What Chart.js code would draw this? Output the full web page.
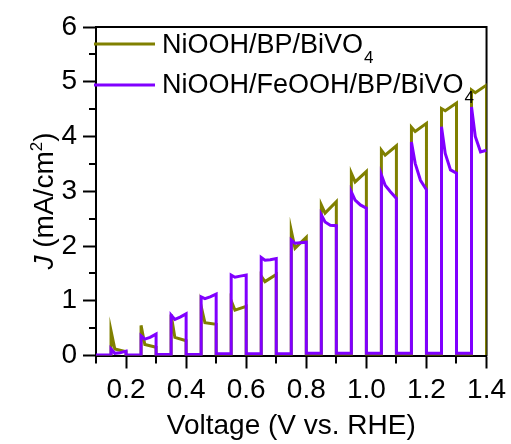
<!DOCTYPE html>
<html>
<head>
<meta charset="utf-8">
<script src="https://cdn.jsdelivr.net/npm/chart.js@4.4.1/dist/chart.umd.min.js"></script>
<style>
  html, body { margin: 0; padding: 0; background: #ffffff; }
  #c { display: block; }
</style>
</head>
<body>
<canvas id="c" width="511" height="444"></canvas>
<script>
// ---------- data ----------
const seriesNames = ['NiOOH/BP/BiVO', 'NiOOH/FeOOH/BP/BiVO'];
const seriesSubs  = ['4', '4'];

const lightOn  = [0.15, 0.25, 0.35, 0.45, 0.55, 0.65, 0.75, 0.85, 0.95, 1.05, 1.15, 1.25, 1.35];
const lightOff = [0.20, 0.30, 0.40, 0.50, 0.60, 0.70, 0.80, 0.90, 1.00, 1.10, 1.20, 1.30, 1.40];

// NiOOH/BP/BiVO4 (olive)
const olivePeak = [0.45, 0.55, 0.75, 0.90, 1.00, 1.45, 2.28, 2.75, 3.33, 3.75, 4.17, 4.51, 4.85];
const oliveMid  = [0.12, 0.20, 0.33, 0.60, 0.83, 1.35, 1.96, 2.60, 3.17, 3.66, 4.09, 4.47, 4.80];
const oliveEnd  = [0.07, 0.15, 0.27, 0.57, 0.90, 1.48, 2.16, 2.81, 3.36, 3.83, 4.24, 4.61, 4.94];
const oliveDark = [0.00, 0.00, 0.00, 0.00, 0.00, 0.01, 0.01, 0.01, 0.01, 0.01, 0.01, 0.01, 0.01];

// NiOOH/FeOOH/BP/BiVO4 (purple)
const purplePeak = [0.12, 0.36, 0.74, 1.07, 1.47, 1.79, 2.11, 2.57, 2.99, 3.30, 3.90, 4.18, 4.54];
const purpleMid  = [0.04, 0.30, 0.66, 1.04, 1.43, 1.74, 2.05, 2.44, 2.84, 3.11, 3.51, 3.69, 4.00];
const purpleLate = [0.05, 0.33, 0.70, 1.07, 1.45, 1.75, 2.06, 2.38, 2.75, 2.99, 3.20, 3.39, 3.72];
const purpleEnd  = [0.08, 0.39, 0.76, 1.12, 1.47, 1.77, 2.07, 2.37, 2.69, 2.87, 3.03, 3.33, 3.75];
const purpleDark = [0.01, 0.01, 0.02, 0.02, 0.03, 0.03, 0.03, 0.04, 0.04, 0.04, 0.04, 0.04, 0.04];

const xTicks      = [0.2, 0.4, 0.6, 0.8, 1.0, 1.2, 1.4];
const xMinorTicks = [0.1, 0.3, 0.5, 0.7, 0.9, 1.1, 1.3];
const yTicks      = [0, 1, 2, 3, 4, 5, 6];
const yMinorTicks = [0.5, 1.5, 2.5, 3.5, 4.5, 5.5];

const X_MIN = 0.1, X_MAX = 1.4, Y_MIN = 0, Y_MAX = 6;

// ---------- build chopped-light traces ----------
function buildTrace(peak, mid, late, end, dark, dropAtEnd) {
  const pts = [{ x: X_MIN, y: dark[0] }];
  for (let i = 0; i < lightOn.length; i++) {
    const on = lightOn[i], off = lightOff[i];
    pts.push({ x: on, y: dark[i] });
    pts.push({ x: on, y: peak[i] });
    pts.push({ x: on + (off - on) * 0.25, y: mid[i] });
    if (late) pts.push({ x: on + (off - on) * 0.6, y: late[i] });
    pts.push({ x: off, y: end[i] });
    const isLast = i === lightOn.length - 1;
    if (!isLast) {
      pts.push({ x: off, y: dark[i + 1] });
    } else if (dropAtEnd) {
      pts.push({ x: off, y: dark[i] });
    }
  }
  return pts;
}

const OLIVE = '#808000';
const PURPLE = '#8000ff';
const FONT = "'Liberation Sans', Arial, Helvetica, sans-serif";

// ---------- custom drawing plugin (frame, minor ticks, titles, legend) ----------
const decor = {
  id: 'decor',
  beforeDatasetsDraw(chart) {
    const ctx = chart.ctx;
    const a = chart.chartArea;
    const xs = chart.scales.x, ys = chart.scales.y;
    ctx.save();
    // frame (top & right)
    ctx.strokeStyle = '#000';
    ctx.lineWidth = 2;
    ctx.beginPath();
    ctx.moveTo(a.left - 1, a.top);
    ctx.lineTo(a.right, a.top);
    ctx.lineTo(a.right, a.bottom + 1);
    ctx.stroke();
    // minor ticks
    ctx.beginPath();
    xMinorTicks.forEach(v => {
      const px = Math.round(xs.getPixelForValue(v));
      ctx.moveTo(px, a.bottom);
      ctx.lineTo(px, a.bottom + 8);
    });
    yMinorTicks.forEach(v => {
      const py = Math.round(ys.getPixelForValue(v));
      ctx.moveTo(a.left, py);
      ctx.lineTo(a.left - 7, py);
    });
    ctx.stroke();
    ctx.restore();
  },
  afterDraw(chart) {
    const ctx = chart.ctx;
    const a = chart.chartArea;
    ctx.save();
    // x title
    ctx.fillStyle = '#000';
    ctx.font = '28px ' + FONT;
    ctx.textAlign = 'center';
    ctx.textBaseline = 'alphabetic';
    ctx.fillText('Voltage (V vs. RHE)', (a.left + a.right) / 2, 434);

    // y title: J (mA/cm2) with italic J and superscript 2
    ctx.save();
    ctx.translate(53, 201);
    ctx.rotate(-Math.PI / 2);
    ctx.textAlign = 'left';
    const parts = [
      { t: 'J', f: 'italic 28px ' + FONT, dy: 0 },
      { t: ' (mA/cm', f: '28px ' + FONT, dy: 0 },
      { t: '2', f: '17px ' + FONT, dy: -11 },
      { t: ')', f: '28px ' + FONT, dy: 0 }
    ];
    let total = 0;
    parts.forEach(p => { ctx.font = p.f; p.w = ctx.measureText(p.t).width; total += p.w; });
    let cx = -total / 2;
    parts.forEach(p => { ctx.font = p.f; ctx.fillText(p.t, cx, p.dy); cx += p.w; });
    ctx.restore();

    // legend
    const legendColors = [OLIVE, PURPLE];
    const lineY = [44, 85];
    const textBase = [53, 93];
    ctx.textAlign = 'left';
    for (let i = 0; i < seriesNames.length; i++) {
      ctx.strokeStyle = legendColors[i];
      ctx.lineWidth = 3;
      ctx.beginPath();
      ctx.moveTo(94, lineY[i]);
      ctx.lineTo(155, lineY[i]);
      ctx.stroke();
      ctx.fillStyle = '#000';
      ctx.font = '27px ' + FONT;
      ctx.fillText(seriesNames[i], 162, textBase[i]);
      const w = ctx.measureText(seriesNames[i]).width;
      ctx.font = '17px ' + FONT;
      ctx.fillText(seriesSubs[i], 162 + w + 1, textBase[i] + 10);
    }
    ctx.restore();
  }
};

new Chart(document.getElementById('c'), {
  type: 'scatter',
  data: {
    datasets: [
      {
        label: seriesNames[0] + seriesSubs[0],
        data: buildTrace(olivePeak, oliveMid, null, oliveEnd, oliveDark, true),
        showLine: true,
        borderColor: OLIVE,
        backgroundColor: OLIVE,
        borderWidth: 3,
        pointRadius: 0,
        tension: 0,
        order: 2
      },
      {
        label: seriesNames[1] + seriesSubs[1],
        data: buildTrace(purplePeak, purpleMid, purpleLate, purpleEnd, purpleDark, false),
        showLine: true,
        borderColor: PURPLE,
        backgroundColor: PURPLE,
        borderWidth: 3,
        pointRadius: 0,
        tension: 0,
        order: 1
      }
    ]
  },
  options: {
    responsive: false,
    animation: false,
    devicePixelRatio: 1,
    layout: { padding: { top: 27, right: 24, bottom: 0, left: 0 } },
    plugins: { legend: { display: false }, tooltip: { enabled: false } },
    scales: {
      x: {
        type: 'linear',
        min: X_MIN, max: X_MAX,
        afterBuildTicks(scale) { scale.ticks = xTicks.map(v => ({ value: v })); },
        afterFit(scale) { scale.height = 88.5; },
        ticks: {
          color: '#000',
          font: { family: FONT, size: 28 },
          padding: 5,
          maxRotation: 0,
          autoSkip: false,
          callback: v => Number(v).toFixed(1)
        },
        grid: { drawOnChartArea: false, drawTicks: true, tickLength: 13, tickWidth: 2, tickColor: '#000', color: '#000' },
        border: { display: true, color: '#000', width: 2 }
      },
      y: {
        type: 'linear',
        min: Y_MIN, max: Y_MAX,
        afterBuildTicks(scale) { scale.ticks = yTicks.map(v => ({ value: v })); },
        afterFit(scale) { scale.width = 96; },
        ticks: {
          color: '#000',
          font: { family: FONT, size: 28 },
          padding: 6,
          autoSkip: false,
          callback: v => String(v)
        },
        grid: { drawOnChartArea: false, drawTicks: true, tickLength: 13, tickWidth: 2, tickColor: '#000', color: '#000' },
        border: { display: true, color: '#000', width: 2 }
      }
    }
  },
  plugins: [decor]
});
</script>
</body>
</html>
